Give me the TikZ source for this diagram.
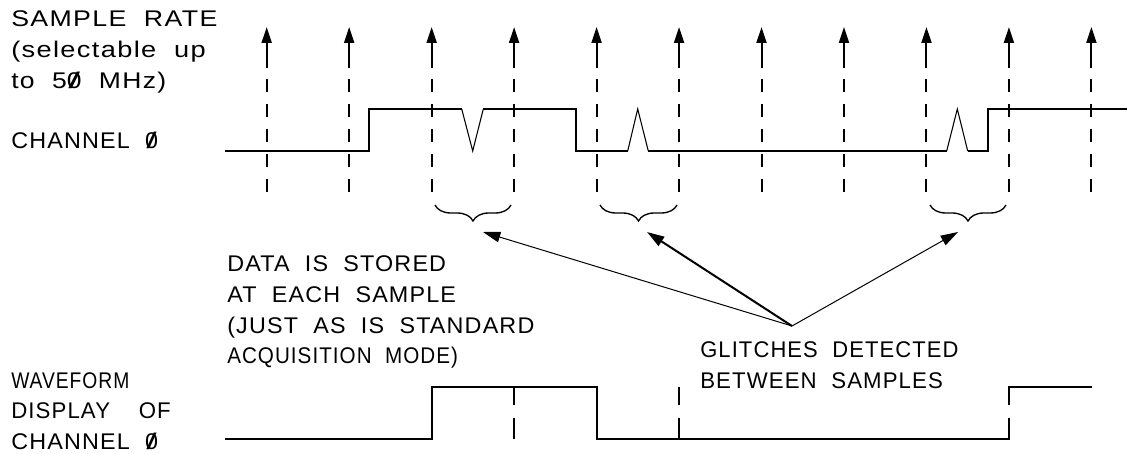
\documentclass[tikz,border=0pt]{standalone}
\usepackage{fontspec}
\setmainfont{Liberation Sans}[LetterSpace=5,WordSpace=2]
\usetikzlibrary{arrows.meta,decorations.pathreplacing}
\newcommand{\zs}{\ooalign{0\cr\hidewidth\scalebox{1.6}[1]{/}\hidewidth\cr}}
\newcommand{\sx}[2]{\scalebox{#1}[1]{#2}}
\begin{document}
\begin{tikzpicture}[x=0.75pt,y=-0.75pt,
  wave/.style={line width=1.5pt},
  glitch/.style={line width=0.8pt},
  sampledash/.style={line width=1.5pt, dash pattern=on 9.75pt off 9pt},
  samplearrow/.style={line width=1.5pt, -{Triangle[length=12pt,width=7.5pt]}},
  lbl/.style={anchor=base west, inner sep=0pt, font=\fontsize{17}{23}\selectfont},
  brc/.style={decorate, decoration={brace,mirror,amplitude=12pt}, line width=1pt},
  pointer/.style={line width=0.75pt, -{Triangle[length=13pt,width=8pt]}},
  boldpointer/.style={line width=1.5pt, -{Triangle[length=13pt,width=8pt]}}
  ]
\useasboundingbox (0,0) rectangle (1127,453);

% labels
\node[lbl] (sr1) at (11,27) {\sx{1.18}{SAMPLE RATE}};
\node[lbl] (sr2) at (11,58) {\sx{1.2}{(selectable up}};
\node[lbl] (sr3) at (11,89) {\sx{1.17}{to 5\zs{} MHz)}};
\node[lbl] (ch) at (11,148) {\sx{1.03}{CHANNEL \zs}};

\node[lbl] (d1) at (227,271) {\sx{1.03}{DATA IS STORED}};
\node[lbl] (d2) at (227,302) {\sx{1.03}{AT EACH SAMPLE}};
\node[lbl] (d3) at (227,333) {\sx{1.03}{(JUST AS IS STANDARD}};
\node[lbl] (d4) at (227,363) {\sx{0.91}{ACQUISITION MODE)}};

\node[lbl] (g1) at (700,357) {\sx{0.97}{GLITCHES DETECTED}};
\node[lbl] (g2) at (700,388) {\sx{0.98}{BETWEEN SAMPLES}};

\node[lbl] (w1) at (11,388) {\sx{0.85}{WAVEFORM}};
\node[lbl] (w2) at (11,418.5) {\sx{0.98}{DISPLAY\hspace{22pt}OF}};
\node[lbl] (w3) at (11,449) {\sx{1.03}{CHANNEL \zs}};

% sample arrows and dashed lines
\foreach \i in {0,...,10} {
  \pgfmathsetmacro\xx{266.7+82.47*\i}
  \coordinate (sb\i) at (\xx,68);
  \coordinate (st\i) at (\xx,27);
  \coordinate (da\i) at (\xx,79);
  \coordinate (de\i) at (\xx,192);
  \draw[samplearrow] (sb\i) -- (st\i);
  \draw[sampledash] (da\i) -- (de\i);
}

% channel 0 waveform
\draw[wave] (225,151) -- (369,151) -- (369,109) -- (461.7,109);
\draw[glitch] (461.7,109) -- (472.7,151) -- (483.3,109);
\draw[wave] (483.3,109) -- (575.5,109) -- (575.5,151) -- (627.7,151);
\draw[glitch] (627.7,151) -- (637.7,109) -- (648.3,151);
\draw[wave] (648.3,151) -- (946.7,151);
\draw[glitch] (946.7,151) -- (957.3,109) -- (967.7,151);
\draw[wave] (967.7,151) -- (988.3,151) -- (988.3,109) -- (1127,109);

% braces
\draw[brc] (435,205) -- (511,205);
\draw[brc] (600,205) -- (677,205);
\draw[brc] (930,205) -- (1006,205);

% pointers
\coordinate (g) at (792,326);
\coordinate (p1) at (483,232);
\coordinate (p2) at (647,232);
\coordinate (p3) at (958,232);
\draw[pointer] (g) -- (p1);
\draw[boldpointer] (g) -- (p2);
\draw[pointer] (g) -- (p3);

% waveform display
\draw[wave] (225,439) -- (432,439) -- (432,387) -- (597,387) -- (597,439) -- (1009,439) -- (1009,418);
\draw[wave] (1009,405) -- (1009,387) -- (1092,387);
\draw[wave] (514,387) -- (514,405);
\draw[wave] (514,418) -- (514,439);
\draw[wave] (679,387) -- (679,405);
\draw[wave] (679,418) -- (679,439);
\end{tikzpicture}
\end{document}
